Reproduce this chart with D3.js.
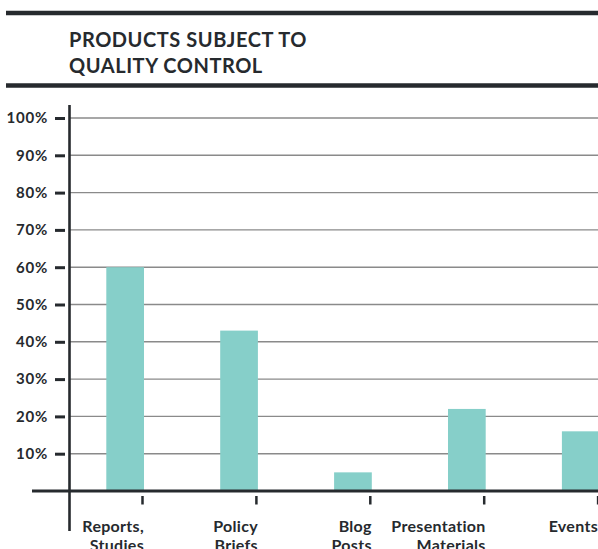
<!DOCTYPE html>
<html>
<head>
<meta charset="utf-8">
<script src="https://cdn.jsdelivr.net/npm/d3@7"></script>
<style>
  html, body { margin: 0; padding: 0; background: #fff; }
  svg { display: block; font-family: Lato, "Open Sans", sans-serif; }
</style>
</head>
<body>
<svg id="chart" width="598" height="549"></svg>
<script>
// Share of products subject to quality control, by product type
const categories = [["Reports,", "Studies"], ["Policy", "Briefs"], ["Blog", "Posts"], ["Presentation", "Materials"], ["Events"]];
const values = [60, 43, 5, 22, 16];
const yTicks = [10, 20, 30, 40, 50, 60, 70, 80, 90, 100];
const titleLines = ["PRODUCTS SUBJECT TO", "QUALITY CONTROL"];

const dark = "#262a2e";
const barColor = "#86cfc9";
const gridColor = "#8a8a8a";

const svg = d3.select("#chart");
const W = 598;

// title rules and heading
svg.append("line").attr("x1", 6).attr("x2", W).attr("y1", 13).attr("y2", 13)
  .attr("stroke", dark).attr("stroke-width", 4.5);
svg.append("line").attr("x1", 6).attr("x2", W).attr("y1", 85.5).attr("y2", 85.5)
  .attr("stroke", dark).attr("stroke-width", 4.5);
svg.append("text").attr("x", 69).attr("y", 46.5)
  .attr("fill", dark).attr("font-size", 20).attr("font-weight", 700)
  .attr("letter-spacing", 0.55)
  .selectAll("tspan").data(titleLines).join("tspan")
  .attr("x", 69).attr("dy", (d, i) => i ? 26.5 : 0).text(d => d);

// scales
const y = d3.scaleLinear().domain([0, 100]).range([491, 118]);
const keys = categories.map(c => c.join(" "));
const step = 113.9;
const x = d3.scaleBand().domain(keys).range([68.6, 68.6 + 5 * step]);
const barW = 37.7;

// gridlines
svg.append("g").selectAll("line").data(yTicks).join("line")
  .attr("x1", 70).attr("x2", W)
  .attr("y1", d => y(d)).attr("y2", d => y(d))
  .attr("stroke", gridColor).attr("stroke-width", 1.4);

// bars
svg.append("g").selectAll("rect").data(values).join("rect")
  .attr("x", (d, i) => x(keys[i]) + barW)
  .attr("width", barW)
  .attr("y", d => y(d))
  .attr("height", d => y(0) - y(d))
  .attr("fill", barColor);

// y axis with short dash ticks
const yAxis = svg.append("g").attr("transform", "translate(65,0)")
  .call(d3.axisLeft(y).tickValues(yTicks).tickSize(10).tickPadding(7)
    .tickFormat(d => d + "%"));
yAxis.select(".domain").remove();
yAxis.selectAll(".tick line").attr("stroke", dark).attr("stroke-width", 3);
yAxis.selectAll(".tick text")
  .attr("fill", dark).attr("font-size", 15).attr("font-weight", 700)
  .attr("letter-spacing", 0.8)
  .attr("font-family", "Lato, 'Open Sans', sans-serif");

// axis lines
svg.append("line").attr("x1", 69.5).attr("x2", 69.5).attr("y1", 105).attr("y2", 531)
  .attr("stroke", dark).attr("stroke-width", 2.6);
svg.append("line").attr("x1", 32).attr("x2", W).attr("y1", y(0)).attr("y2", y(0))
  .attr("stroke", dark).attr("stroke-width", 3);

// category ticks and labels
const tickX = k => x(k) + 2 * barW - 1.5;
svg.append("g").selectAll("line").data(keys).join("line")
  .attr("x1", tickX).attr("x2", tickX).attr("y1", 496).attr("y2", 504.5)
  .attr("stroke", dark).attr("stroke-width", 2.5);

svg.append("g").selectAll("text").data(categories).join("text")
  .attr("text-anchor", "end")
  .attr("fill", dark).attr("font-size", 16).attr("font-weight", 700)
  .attr("letter-spacing", 0.3)
  .attr("y", 532)
  .each(function (lines, i) {
    d3.select(this).selectAll("tspan").data(lines).join("tspan")
      .attr("x", Math.min(tickX(keys[i]) + 1.5, W))
      .attr("dy", (d, j) => j ? 18.5 : 0)
      .text(d => d);
  });
</script>
</body>
</html>
